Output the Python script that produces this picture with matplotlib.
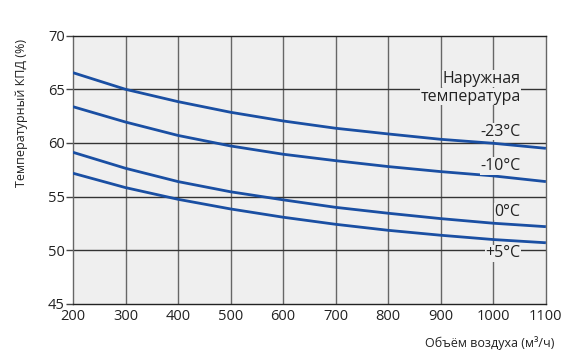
import matplotlib.pyplot as plt

# air flow (m3/h) and temperature efficiency (%)
flow = [200, 300, 400, 500, 600, 700, 800, 900, 1000, 1100]
eff_m23 = [66.55, 65.0, 63.85, 62.86, 62.05, 61.37, 60.84, 60.34, 59.97, 59.5]
eff_m10 = [63.38, 61.95, 60.7, 59.72, 58.95, 58.35, 57.8, 57.33, 56.93, 56.4]
eff_0 = [59.13, 57.64, 56.4, 55.45, 54.7, 54.0, 53.45, 52.95, 52.52, 52.2]
eff_p5 = [57.18, 55.84, 54.75, 53.85, 53.08, 52.42, 51.86, 51.4, 51.0, 50.7]

labels = ["-23°C", "-10°C", "0°C", "+5°C"]
label_y = [61.05, 57.85, 53.6, 49.73]

plt.rcParams['font.family'] = ['Open Sans', 'DejaVu Sans']

fig = plt.figure(figsize=(5.71, 3.53), dpi=100)
ax = fig.add_axes([0.1278, 0.139, 0.8282, 0.760])
ax.set_facecolor('#efefef')

ax.set_xlim(200, 1100)
ax.set_ylim(45, 70)
ax.set_xticks(flow)
ax.set_yticks([45, 50, 55, 60, 65, 70])

for v in flow[1:-1]:
    ax.axvline(v, color='#666666', lw=1.0, zorder=1)
for v in [50, 55, 60, 65]:
    ax.axhline(v, color='#333333', lw=1.0, zorder=1)

for s in [eff_m23, eff_m10, eff_0, eff_p5]:
    ax.plot(flow, s, color='#1a4fa3', lw=2.0, zorder=3, solid_capstyle='butt')

box = dict(fc='#efefef', ec='none', pad=0.5)
ax.text(1052, 66.0, "Наружная", ha='right', va='center', fontsize=11.5,
        color='#222222', bbox=box, zorder=4)
ax.text(1052, 64.3, "температура", ha='right', va='center', fontsize=11.5,
        color='#222222', bbox=box, zorder=4)
for lab, y in zip(labels, label_y):
    ax.text(1052, y, lab, ha='right', va='center', fontsize=11.5,
            color='#222222', bbox=box, zorder=4)

for side in ['left', 'right']:
    ax.spines[side].set_color('#666666')
for side in ['top', 'bottom']:
    ax.spines[side].set_color('#222222')
for sp in ax.spines.values():
    sp.set_linewidth(1.0)

ax.tick_params(axis='y', length=5, width=1.0, color='#444444', labelsize=10.5,
               labelcolor='#222222', pad=1)
ax.tick_params(axis='x', length=0, labelsize=10.5, labelcolor='#222222', pad=4)

fig.text(0.038, 0.68, "Температурный КПД (%)", rotation=90, ha='center', va='center',
         fontsize=9, color='#222222')
fig.text(0.971, 0.027, "Объём воздуха (м³/ч)", ha='right', va='center',
         fontsize=9, color='#222222')

fig.savefig('out.png', dpi=100)
